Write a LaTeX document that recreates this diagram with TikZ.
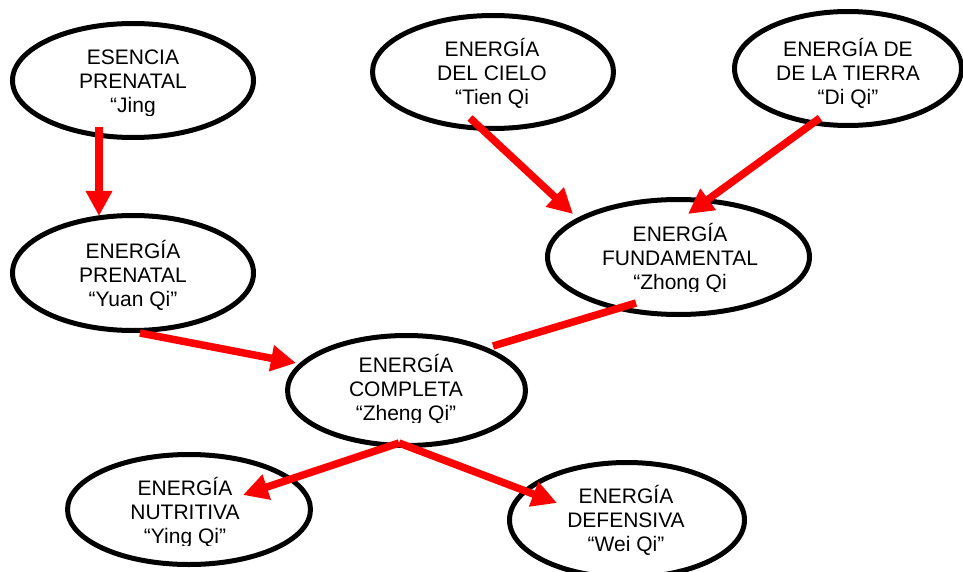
\documentclass[tikz,border=0pt]{standalone}
\usepackage{fontspec}
\setmainfont{Liberation Sans}
\usetikzlibrary{arrows.meta,shapes.geometric}
\begin{document}
\begin{tikzpicture}[x=1pt,y=-1pt,
  ell/.style={ellipse, draw=black, line width=5pt, fill=white, inner sep=0pt},
  txt/.style={align=center, anchor=base, inner sep=0pt, font=\fontsize{21}{24}\selectfont},
  arr/.style={draw=red, line width=7.5pt, -{Triangle[length=25pt,width=25pt]}},
  link/.style={draw=red, line width=7.5pt}]
\useasboundingbox (0,0) rectangle (963,572);

% ellipses
\node[ell, minimum width=241pt, minimum height=114pt] (esencia) at (133,80.5) {};
\node[ell, minimum width=241pt, minimum height=113pt] (cielo) at (493,72) {};
\node[ell, minimum width=227pt, minimum height=114pt] (tierra) at (848,68.5) {};
\node[ell, minimum width=241pt, minimum height=115pt] (prenatal) at (133,273) {};
\node[ell, minimum width=262pt, minimum height=115pt] (fundamental) at (678.5,257) {};
\node[ell, minimum width=238pt, minimum height=110pt] (completa) at (406.5,390.5) {};
\node[ell, minimum width=243pt, minimum height=110pt] (nutritiva) at (189,509.5) {};
\node[ell, minimum width=235pt, minimum height=115pt] (defensiva) at (627,520) {};

% texts (anchor = baseline of the last line)
\begin{scope}
\clip (0,30) rectangle (300,115.5);
\node[txt] (tesencia) at (133,113) {ESENCIA\\PRENATAL\\“Jing};
\end{scope}
\node[txt] (tcielo) at (492,105) {ENERGÍA\\DEL CIELO\\“Tien Qi};
\node[txt] (ttierra) at (848,105) {ENERGÍA DE\\DE LA TIERRA\\“Di Qi”};
\node[txt] (tprenatal) at (133,306) {ENERGÍA\\PRENATAL\\“Yuan Qi”};
\begin{scope}
\clip (500,200) rectangle (860,291.5);
\node[txt] (tfundamental) at (680,289.5) {ENERGÍA\\FUNDAMENTAL\\“Zhong Qi};
\end{scope}
\begin{scope}
\clip (280,340) rectangle (530,422.5);
\node[txt] (tcompleta) at (406,420.5) {ENERGÍA\\COMPLETA\\“Zheng Qi”};
\end{scope}
\begin{scope}
\clip (60,460) rectangle (320,545);
\node[txt] (tnutritiva) at (185,543) {ENERGÍA\\NUTRITIVA\\“Ying Qi”};
\end{scope}
\node[txt] (tdefensiva) at (626,551) {ENERGÍA\\DEFENSIVA\\“Wei Qi”};

% connector end points
\coordinate (a1) at (99,127);
\coordinate (a2) at (99,216);
\coordinate (b1) at (470,118);
\coordinate (b2) at (573,214);
\coordinate (c1) at (820,118);
\coordinate (c2) at (688,214);
\coordinate (d1) at (140,333);
\coordinate (d2) at (296,363);
\coordinate (e1) at (636,303);
\coordinate (e2) at (493,346);
\coordinate (f0) at (399,443);
\coordinate (f1) at (243,495);
\coordinate (g1) at (557,503);

% connectors
\draw[arr] (a1) -- (a2);
\draw[arr] (b1) -- (b2);
\draw[arr] (c1) -- (c2);
\draw[arr] (d1) -- (d2);
\draw[link] (e1) -- (e2);
\draw[arr] (f0) -- (f1);
\draw[arr] (f0) -- (g1);
\end{tikzpicture}
\end{document}
